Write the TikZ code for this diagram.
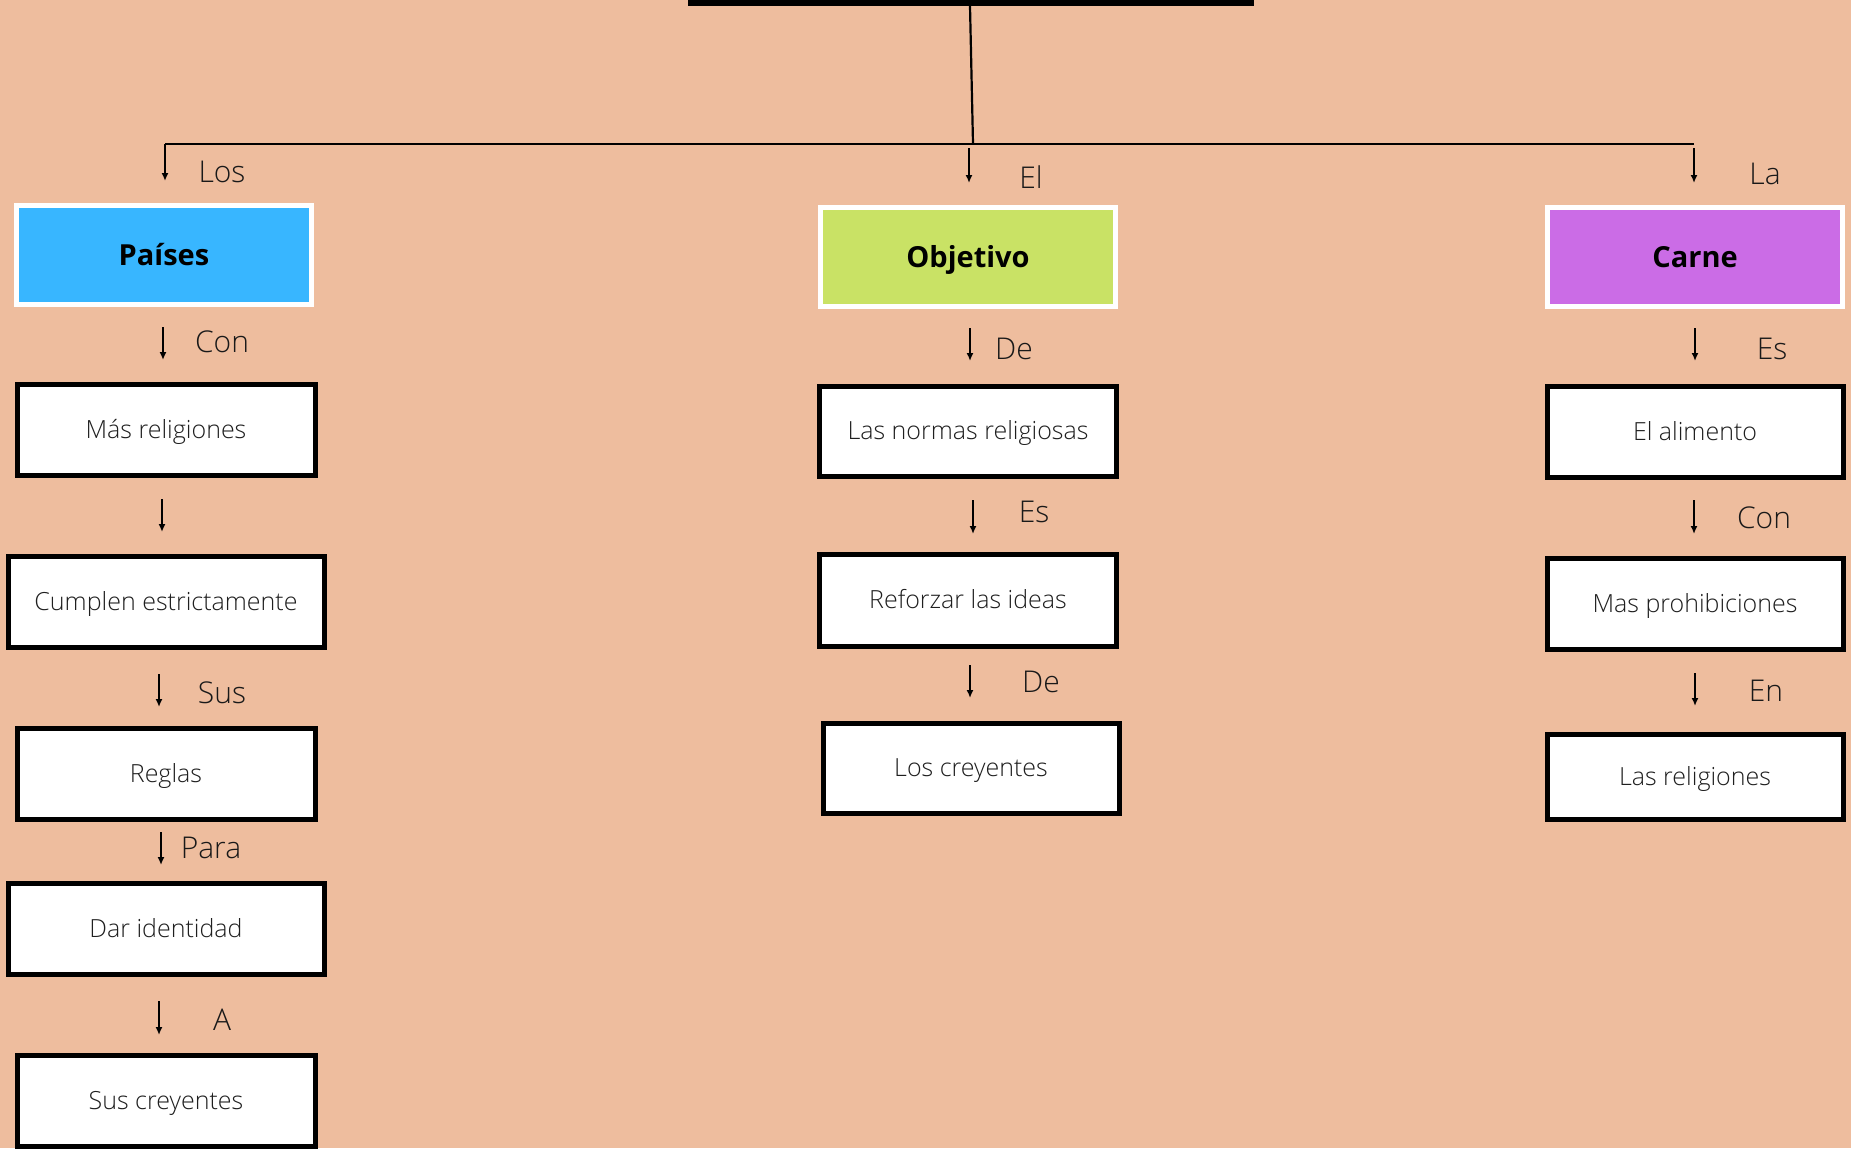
\documentclass[tikz,border=0pt]{standalone}
\usepackage{fontspec}
\setmainfont{Open Sans}
\newfontfamily\lightfont{Open Sans Light}
\usetikzlibrary{arrows.meta}
\definecolor{bgc}{HTML}{EEBD9E}
\definecolor{bluec}{HTML}{38B6FF}
\definecolor{greenc}{HTML}{C9E265}
\definecolor{purplec}{HTML}{CB6CE6}
\tikzset{
  head/.style={draw=white, line width=5pt, minimum width=295pt, minimum height=99pt, inner sep=0pt,
    text height=21pt, text depth=0pt, font=\fontsize{29}{34}\selectfont\bfseries},
  wbox/.style={draw=black, fill=white, line width=5pt, minimum width=250pt, minimum height=90pt, inner sep=0pt,
    text height=17pt, text depth=0pt, text=black!88, font=\lightfont\fontsize{25}{29}\selectfont},
  lab/.style={inner sep=0pt, font=\lightfont\fontsize{30}{34}\selectfont, text=black!90},
  arr/.style={line width=2pt, -{Latex[length=8pt,width=7pt]}},
  link/.style={line width=2.2pt}
}
\begin{document}
\begin{tikzpicture}[x=1pt,y=-1pt]
\useasboundingbox (0,0) rectangle (1851,1148);
\fill[bgc] (0,0) rectangle (1851,1148);
% title bar (cut off)
\node[fill=black, minimum width=566pt, minimum height=12pt, inner sep=0pt] (title) at (971,0) {};
% headers
\node[head, fill=bluec] (paises) at (164,255) {Países};
\node[head, fill=greenc] (obj) at (968,257) {Objetivo};
\node[head, fill=purplec] (carne) at (1695,257) {Carne};
% top connectors
\coordinate (hub) at (973,144);
\coordinate (hl) at (165,144);
\coordinate (hr) at (1694,144);
\draw[link] (title.south -| 970,0) -- (hub);
\draw[link] (hr) -- (hl);
\draw[arr] (hl) -- (165,181);
\draw[arr] (969,148) -- (969,183);
\draw[arr] (1694,148) -- (1694,183);
\node[lab] (lLos) at (222,172) {Los};
\node[lab] (lEl) at (1031,177) {El};
\node[lab] (lLa) at (1765,174) {La};
% left column
\node[wbox, minimum width=298pt, minimum height=91pt] (l1) at (166,430) {Más religiones};
\node[wbox, minimum width=316pt, minimum height=91pt] (l2) at (166,602) {Cumplen estrictamente};
\node[wbox, minimum width=298pt, minimum height=91pt] (l3) at (166,774) {Reglas};
\node[wbox, minimum width=316pt, minimum height=91pt] (l4) at (166,929) {Dar identidad};
\node[wbox, minimum width=298pt, minimum height=91pt] (l5) at (166,1101) {Sus creyentes};
\draw[arr] (163,327) -- (163,360);
\node[lab] (lCon) at (222,342) {Con};
\draw[arr] (162,499) -- (162,532);
\draw[arr] (159,674) -- (159,707);
\node[lab] (lSus) at (222,693) {Sus};
\draw[arr] (161,832) -- (161,865);
\node[lab] (lPara) at (211,848) {Para};
\draw[arr] (159,1001) -- (159,1035);
\node[lab] (lA) at (222,1020) {A};
% middle column
\node[wbox, minimum width=297pt, minimum height=90pt] (m1) at (968,431) {Las normas religiosas};
\node[wbox, minimum width=297pt, minimum height=92pt] (m2) at (968,600) {Reforzar las ideas};
\node[wbox, minimum width=296pt, minimum height=90pt] (m3) at (971,768) {Los creyentes};
\draw[arr] (970,328) -- (970,361);
\node[lab] (mDe) at (1014,349) {De};
\draw[arr] (973,500) -- (973,534);
\node[lab] (mEs) at (1034,512) {Es};
\draw[arr] (970,665) -- (970,698);
\node[lab] (mDe2) at (1041,682) {De};
% right column
\node[wbox, minimum width=296pt, minimum height=91pt] (r1) at (1695,432) {El alimento};
\node[wbox, minimum width=296pt, minimum height=91pt] (r2) at (1695,604) {Mas prohibiciones};
\node[wbox, minimum width=296pt, minimum height=85pt] (r3) at (1695,777) {Las religiones};
\draw[arr] (1695,328) -- (1695,361);
\node[lab] (rEs) at (1772,349) {Es};
\draw[arr] (1694,500) -- (1694,534);
\node[lab] (rCon) at (1764,518) {Con};
\draw[arr] (1695,673) -- (1695,706);
\node[lab] (rEn) at (1766,691) {En};
\end{tikzpicture}
\end{document}
